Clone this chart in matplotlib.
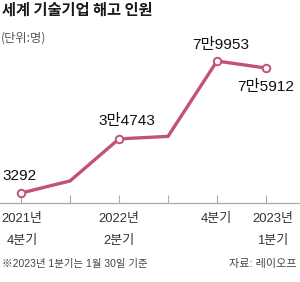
import matplotlib
matplotlib.use("Agg")
import matplotlib.pyplot as plt
from matplotlib import font_manager

quarters = ["2021Q4", "2022Q1", "2022Q2", "2022Q3", "2022Q4", "2023Q1"]
layoffs = [3292, 10300, 34743, 36200, 79953, 75912]
value_labels = ["3292", "", "3만4743", "", "7만9953", "7만5912"]
tick_line1 = ["2021년", "", "2022년", "", "4분기", "2023년"]
tick_line2 = ["4분기", "", "2분기", "", "", "1분기"]

title = "세계 기술기업 해고 인원"
unit = "(단위:명)"
note = "※2023년 1분기는 1월 30일 기준"
source = "자료: 레이오프"

names = {f.name for f in font_manager.fontManager.ttflist}
narrow = "Liberation Sans Narrow" if "Liberation Sans Narrow" in names else "Liberation Sans"
LBL = [narrow, "Noto Sans CJK KR", "DejaVu Sans"]
CJK = ["Noto Sans CJK KR", "DejaVu Sans"]
scale = 1.0 if narrow == "Liberation Sans Narrow" else 0.85

W, H = 300, 282
fig = plt.figure(figsize=(W / 100, H / 100), dpi=100)
fig.patch.set_facecolor("white")

ax = fig.add_axes([0, (H - 203) / H, 1, (203 - 30) / H])
x = list(range(len(quarters)))
color = "#c0527c"
ax.plot(x, layoffs, color=color, lw=2.4, solid_joinstyle="miter", zorder=3)
mi = [0, 2, 4, 5]
ax.plot([x[i] for i in mi], [layoffs[i] for i in mi], ls="none", marker="o",
        ms=5.4, mfc="white", mec=color, mew=1.4, zorder=4)

ax.set_xlim(-21 / 49, (W - 21) / 49)
ax.set_ylim(-2500, 98000)
for s in ["left", "right", "top"]:
    ax.spines[s].set_visible(False)
ax.spines["bottom"].set_color("#aaaaaa")
ax.spines["bottom"].set_linewidth(0.9)
ax.set_yticks([])
ax.set_xticks(x)
ax.tick_params(axis="x", direction="in", length=6, width=0.8, color="#aaaaaa",
               labelbottom=False)
ax.patch.set_alpha(0)

offsets = {0: (-1, 17.5), 2: (8, 18), 4: (4, 16), 5: (0, -18.5)}
for i, lab in enumerate(value_labels):
    if not lab:
        continue
    dx, dy = offsets[i]
    ax.annotate(lab, (x[i], layoffs[i]), xytext=(dx, dy), textcoords="offset pixels",
                ha="center", va="center", fontsize=13 * scale, family=LBL,
                color="#111111", zorder=5)

tick_dx = {0: 1, 2: 0, 4: -1, 5: 7}
for i in x:
    for txt, dy in ((tick_line1[i], -16), (tick_line2[i], -38)):
        if txt:
            ax.annotate(txt, (x[i], 0), xycoords=("data", "axes fraction"),
                        xytext=(tick_dx[i], dy), textcoords="offset pixels",
                        ha="center", va="center", fontsize=11 * scale,
                        family=LBL, color="#333333", annotation_clip=False)

fig.text(2 / W, 1 - 10 / H, title, ha="left", va="center", fontsize=11,
         fontweight="heavy", family=CJK, color="#1a1a1a")
fig.text(1 / W, 1 - 38 / H, unit, ha="left", va="center", fontsize=8.8,
         family=CJK, color="#555555")
fig.text(2 / W, 1 - 264 / H, note, ha="left", va="center", fontsize=7.5,
         family=LBL, color="#444444")
fig.text(297 / W, 1 - 264 / H, source, ha="right", va="center", fontsize=8,
         family=LBL, color="#444444")

fig.savefig("out.png", dpi=100, facecolor="white")
